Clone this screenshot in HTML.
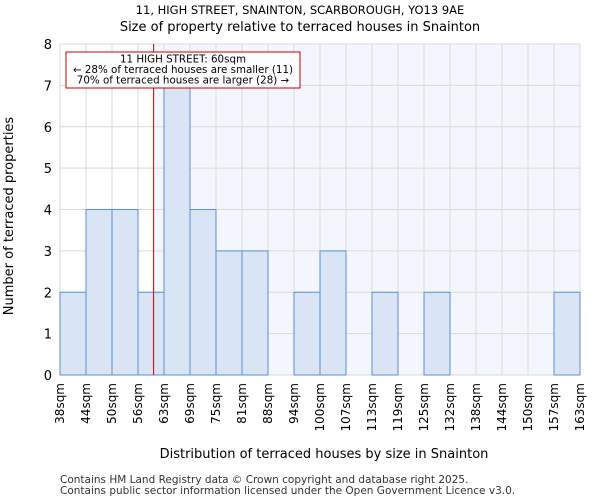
<!DOCTYPE html>
<html><head><meta charset="utf-8"><style>
body{margin:0;background:#fff;font-family:"DejaVu Sans","Liberation Sans",sans-serif;}
</style></head><body>
<svg id="c" width="600" height="500" xmlns="http://www.w3.org/2000/svg" font-family="DejaVu Sans, Liberation Sans, sans-serif">
<text x="300" y="14" text-anchor="middle" font-size="11.5">11, HIGH STREET, SNAINTON, SCARBOROUGH, YO13 9AE</text>
<text x="300" y="31" text-anchor="middle" font-size="13">Size of property relative to terraced houses in Snainton</text>
<g id="plot"></g>
<text x="324" y="458" text-anchor="middle" font-size="13">Distribution of terraced houses by size in Snainton</text>
<text transform="translate(13,216) rotate(-90)" text-anchor="middle" font-size="13">Number of terraced properties</text>
<text x="60" y="483" font-size="10.5" fill="#333">Contains HM Land Registry data © Crown copyright and database right 2025.</text>
<text x="60" y="494" font-size="10.5" fill="#333">Contains public sector information licensed under the Open Government Licence v3.0.</text>
</svg>
<script>
const categories=["38sqm","44sqm","50sqm","56sqm","63sqm","69sqm","75sqm","81sqm","88sqm","94sqm","100sqm","107sqm","113sqm","119sqm","125sqm","132sqm","138sqm","144sqm","150sqm","157sqm","163sqm"];
const counts=[2,4,4,2,7,4,3,3,0,2,3,0,2,0,2,0,0,0,0,2];
const yTicks=[0,1,2,3,4,5,6,7,8];
const markerBin=3.6;
const L=60,R=580,T=44,B=375,yMax=8;
const bw=(R-L)/counts.length;
const x=i=>L+i*bw, y=v=>B-(v/yMax)*(B-T);
const ns="http://www.w3.org/2000/svg", g=document.getElementById('plot');
function mk(t,a){const e=document.createElementNS(ns,t);for(const k in a)e.setAttribute(k,a[k]);g.appendChild(e);return e;}
const mx=x(markerBin);
let e=mk('rect',{x:mx,y:T,width:R-mx,height:B-T,fill:'#f3f6fd'});


for(let i=0;i<=counts.length;i++){e=mk('line',{x1:x(i),x2:x(i),y1:T,y2:B,stroke:'#d9d9d9','stroke-width':1});

}
yTicks.forEach(v=>{e=mk('line',{x1:L,x2:R,y1:y(v),y2:y(v),stroke:'#d9d9d9','stroke-width':1});


e=mk('text',{x:L-8,y:y(v)+5,'text-anchor':'end','font-size':13});e.textContent=v;

});
counts.forEach((v,i)=>{if(!v)return;e=mk('rect',{x:x(i),y:y(v),width:bw,height:B-y(v),fill:'#d9e4f5',stroke:'#5b8fd6','stroke-width':1});

});
categories.forEach((c,i)=>{e=mk('text',{transform:`translate(${x(i)+4},${B+8}) rotate(-90)`,'text-anchor':'end','font-size':12});e.textContent=c;

});
e=mk('line',{x1:mx,x2:mx,y1:T,y2:B,stroke:'#c00','stroke-width':1});


e=mk('rect',{x:66,y:52,width:234,height:36,fill:'#fff',stroke:'#c00','stroke-width':1});


["11 HIGH STREET: 60sqm","← 28% of terraced houses are smaller (11)","70% of terraced houses are larger (28) →"].forEach((t,i)=>{e=mk('text',{x:183,y:62.5+i*10.5,'text-anchor':'middle','font-size':10.3});e.textContent=t;

});
</script>
</body></html>
